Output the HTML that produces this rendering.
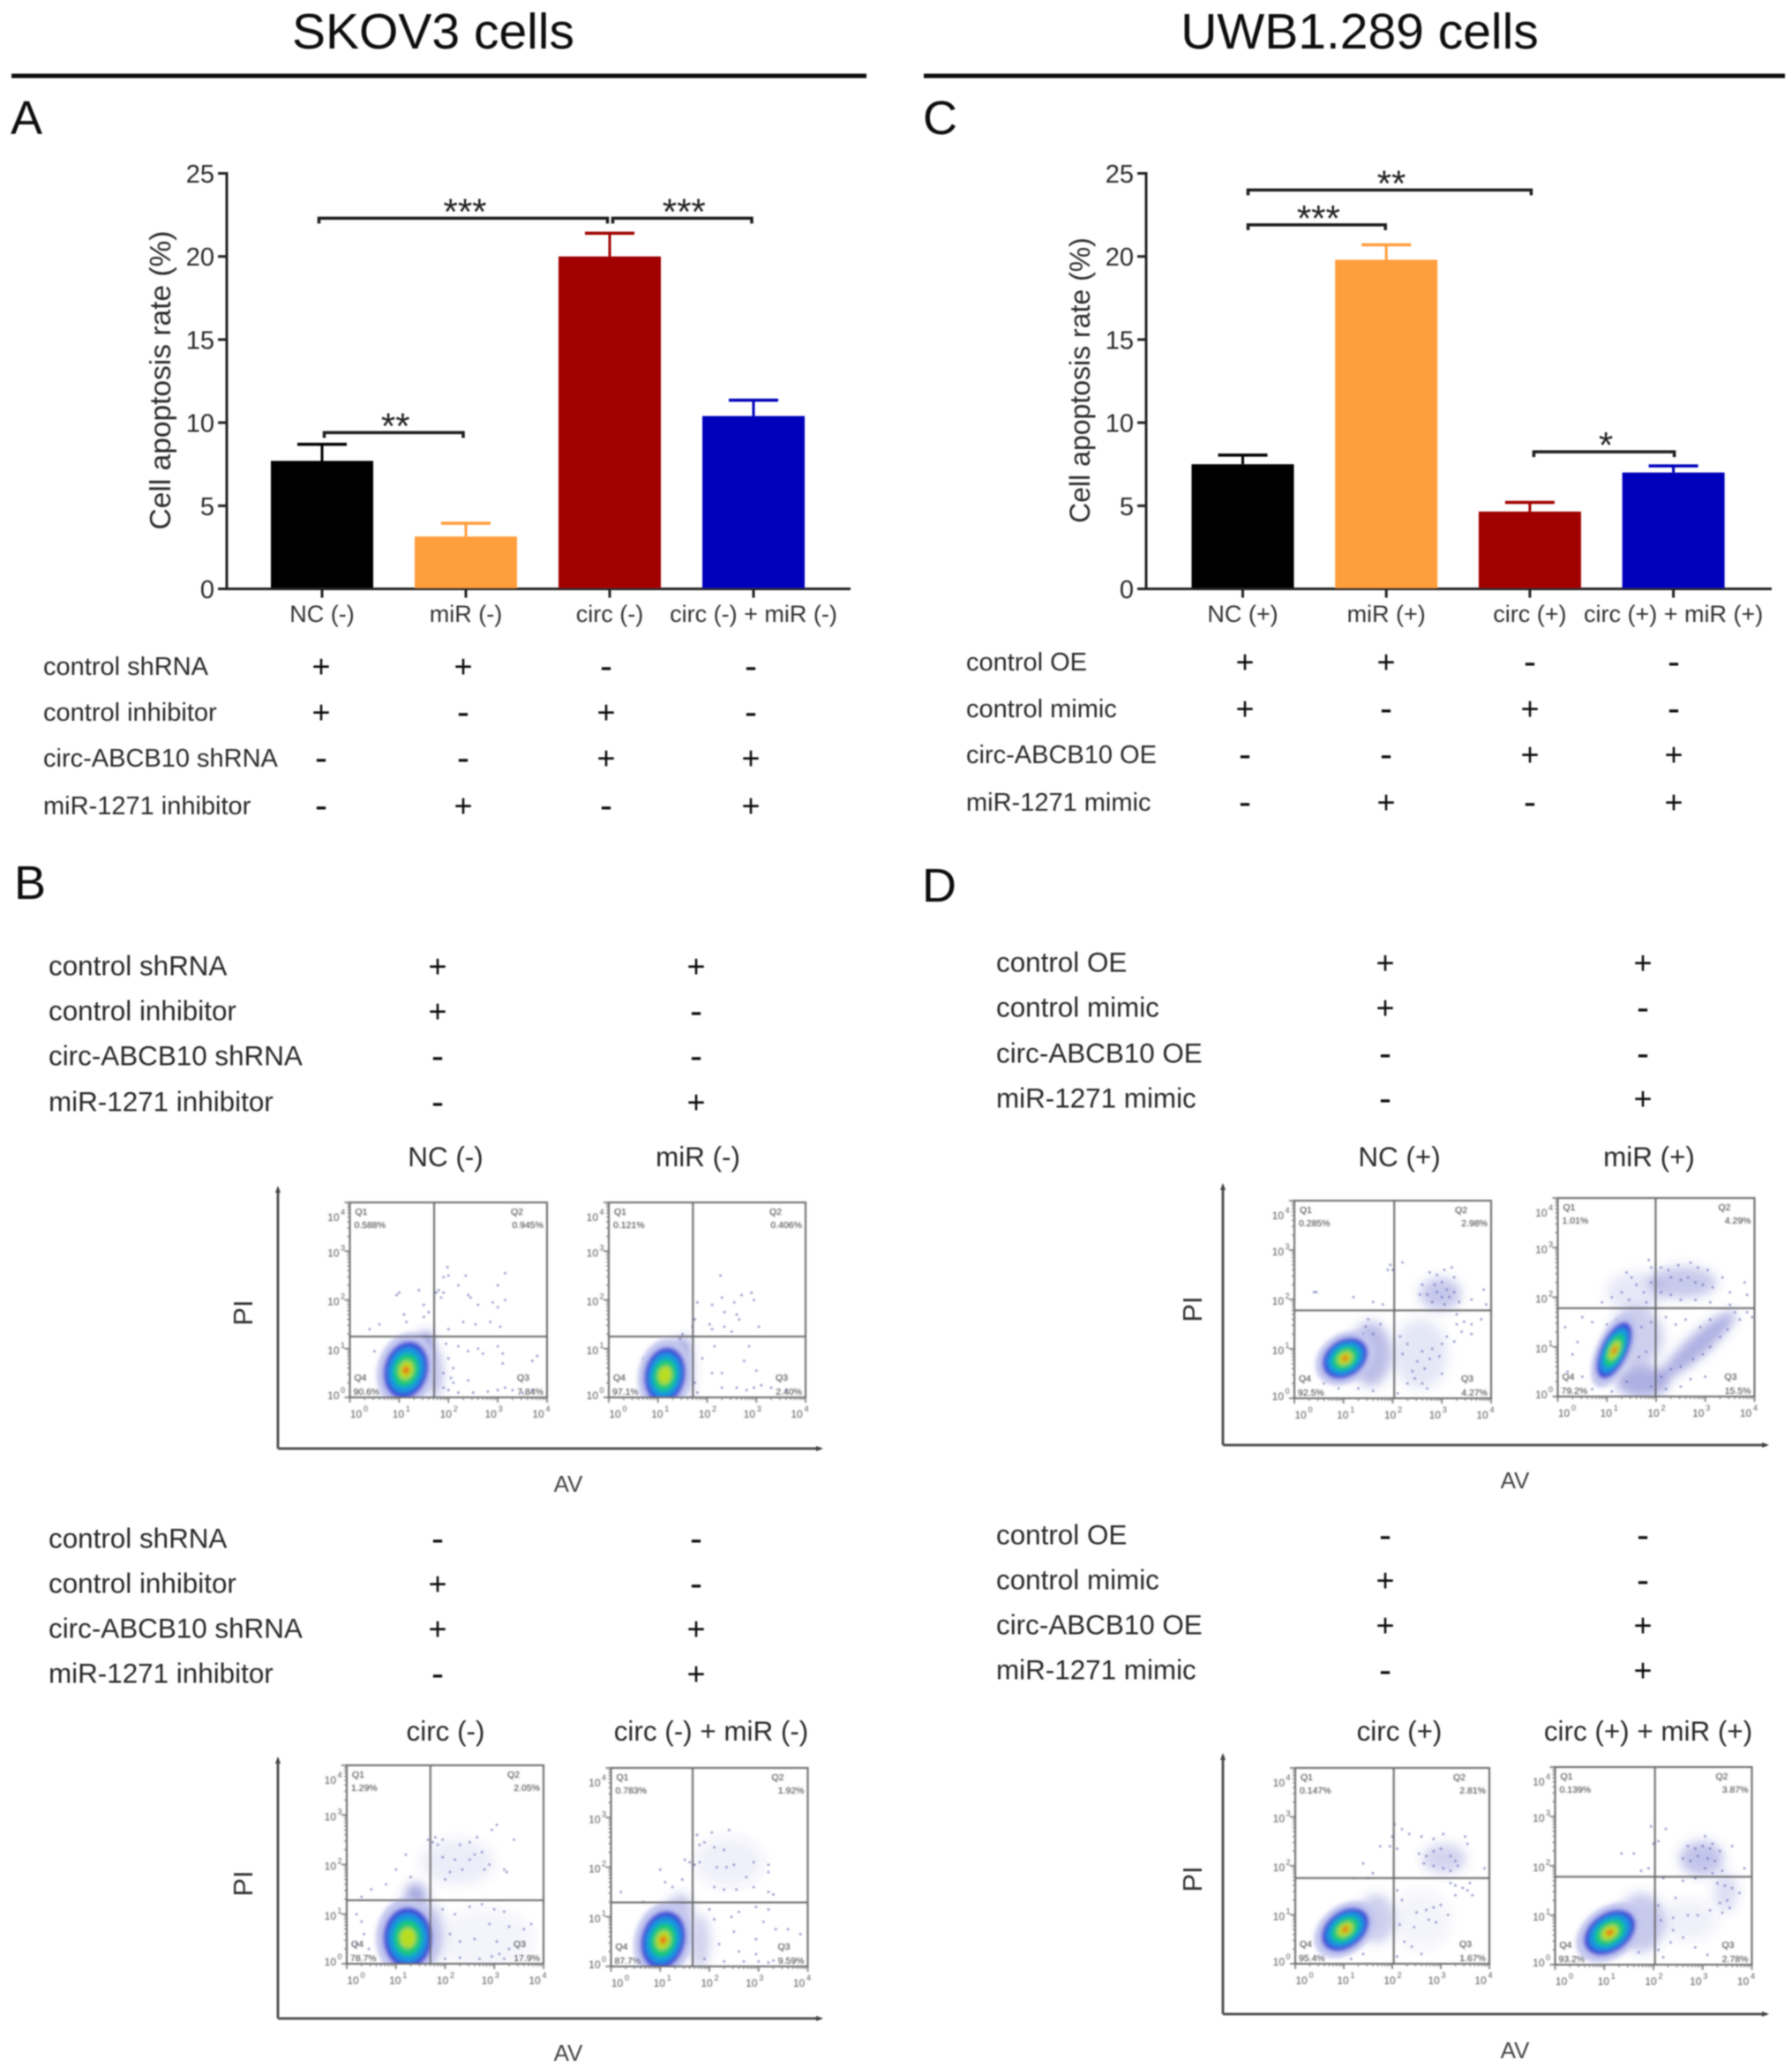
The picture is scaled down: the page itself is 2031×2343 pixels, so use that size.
<!DOCTYPE html>
<html lang="en">
<head>
<meta charset="utf-8">
<title>Cell apoptosis rate: SKOV3 and UWB1.289 cells</title>
<style>
html,body{margin:0;padding:0;background:#fff;}
svg{display:block;}
text{font-family:"Liberation Sans",Arial,sans-serif;}
</style>
</head>
<body>
<svg id="fig" xmlns="http://www.w3.org/2000/svg" width="2031" height="2343" viewBox="0 0 2031 2343">
<defs>
<filter id="soft" filterUnits="userSpaceOnUse" x="0" y="0" width="2031" height="2343"><feGaussianBlur stdDeviation="0.7"/></filter>
<filter id="softer" filterUnits="userSpaceOnUse" x="0" y="0" width="2031" height="2343"><feGaussianBlur stdDeviation="0.5"/></filter>
<filter id="coreBlur" filterUnits="userSpaceOnUse" x="0" y="0" width="2031" height="2343"><feGaussianBlur stdDeviation="2"/></filter>
<filter id="cloudBlur" filterUnits="userSpaceOnUse" x="0" y="0" width="2031" height="2343"><feGaussianBlur stdDeviation="6"/></filter>
</defs>
<rect x="0" y="0" width="2031" height="2343" fill="#fff"/>
<g id="root" filter="url(#soft)"></g>
</svg>
<script>
/* ---------- bar chart data ---------- */
const yTicks = [0, 5, 10, 15, 20, 25];
const skovCategories = ["NC (-)", "miR (-)", "circ (-)", "circ (-) + miR (-)"];
const skovMeans = [7.7, 3.15, 20.0, 10.4];
const skovErrors = [1.0, 0.8, 1.4, 0.95];
const uwbCategories = ["NC (+)", "miR (+)", "circ (+)", "circ (+) + miR (+)"];
const uwbMeans = [7.5, 19.8, 4.65, 7.0];
const uwbErrors = [0.55, 0.9, 0.55, 0.4];
const barColors = ["#000000", "#ff9e3d", "#a00000", "#0000bb"];
const skovBrackets = [[0, 2, 22.3, "***"], [2, 3, 22.3, "***"], [0, 1, 9.4, "**"]];
const uwbBrackets = [[0, 2, 24.0, "**"], [0, 1, 21.9, "***"], [2, 3, 8.25, "*"]];

/* ---------- treatment tables ---------- */
const skovTreatments = ["control shRNA", "control inhibitor", "circ-ABCB10 shRNA", "miR-1271 inhibitor"];
const uwbTreatments = ["control OE", "control mimic", "circ-ABCB10 OE", "miR-1271 mimic"];
const treatmentMatrix = [["+", "+", "-", "-"], ["+", "-", "+", "-"], ["-", "-", "+", "+"], ["-", "+", "-", "+"]];

/* ---------- flow cytometry data (decades of 10^n) ---------- */
const ncMinusPct = ["0.588%", "0.945%", "7.84%", "90.6%"];
const miMinusPct = ["0.121%", "0.406%", "2.40%", "97.1%"];
const ciMinusPct = ["1.29%", "2.05%", "17.9%", "78.7%"];
const cmMinusPct = ["0.783%", "1.92%", "9.59%", "87.7%"];
const ncPlusPct = ["0.285%", "2.98%", "4.27%", "92.5%"];
const miPlusPct = ["1.01%", "4.29%", "15.5%", "79.2%"];
const ciPlusPct = ["0.147%", "2.81%", "1.67%", "95.4%"];
const cmPlusPct = ["0.139%", "3.87%", "2.78%", "93.2%"];

const ncMinusGate = [1.71, 1.25];
const miMinusGate = [1.71, 1.25];
const ciMinusGate = [1.7, 1.28];
const cmMinusGate = [1.66, 1.29];
const ncPlusGate = [2.03, 1.78];
const miPlusGate = [1.99, 1.78];
const ciPlusGate = [2.03, 1.75];
const cmPlusGate = [2.03, 1.78];

/* core: u, v, radiusU, radiusV, tilt degrees, colour levels */
const ncMinusCore = [1.14, 0.56, 0.45, 0.6, 15, 6];
const miMinusCore = [1.14, 0.455, 0.42, 0.58, 10, 5];
const ciMinusCore = [1.24, 0.52, 0.5, 0.62, 0, 5];
const cmMinusCore = [1.06, 0.53, 0.45, 0.6, 15, 6];
const ncPlusCore = [1.03, 0.81, 0.5, 0.38, -35, 6];
const miPlusCore = [1.15, 0.93, 0.28, 0.62, 25, 6];
const ciPlusCore = [1.03, 0.7, 0.55, 0.38, -38, 6];
const cmPlusCore = [1.11, 0.65, 0.58, 0.4, -35, 6];

/* diffuse clouds: u, v, radiusU, radiusV, tilt degrees, opacity */
const ncMinusClouds = [[1.72, 0.5, 0.15, 0.5, 0, 0.4], [1.45, 1.0, 0.2, 0.35, 25, 0.75]];
const miMinusClouds = [[1.6, 0.5, 0.12, 0.5, 0, 0.3], [1.42, 0.9, 0.18, 0.35, 25, 0.6]];
const ciMinusClouds = [[1.4, 1.35, 0.22, 0.28, 0, 0.5], [2.25, 2.05, 0.75, 0.45, 0, 0.1], [1.75, 0.6, 0.2, 0.6, 0, 0.3], [2.8, 0.5, 1.0, 0.6, 0, 0.06]];
const cmMinusClouds = [[1.4, 1.15, 0.25, 0.3, 0, 0.35], [1.8, 0.5, 0.22, 0.55, 0, 0.25], [2.4, 2.1, 0.7, 0.5, 0, 0.08]];
const ncPlusClouds = [[2.97, 2.11, 0.42, 0.33, 0, 0.32], [2.56, 0.9, 0.55, 0.7, 0, 0.14], [1.55, 0.9, 0.42, 0.65, 0, 0.38]];
const miPlusClouds = [[2.86, 1.04, 1.0, 0.22, -42, 0.45], [2.53, 2.3, 0.7, 0.32, 0, 0.3], [1.72, 0.3, 0.55, 0.32, 0, 0.45], [1.6, 1.2, 0.55, 0.6, 0, 0.28], [1.6, 2.1, 0.6, 0.4, 0, 0.13]];
const ciPlusClouds = [[3.07, 2.15, 0.45, 0.3, 0, 0.25], [1.67, 0.92, 0.38, 0.5, 0, 0.28], [2.6, 0.9, 0.6, 0.6, 0, 0.06]];
const cmPlusClouds = [[2.98, 2.15, 0.45, 0.35, 0, 0.34], [3.47, 1.48, 0.25, 0.4, 0, 0.18], [1.75, 0.85, 0.48, 0.6, 0, 0.3], [2.7, 0.9, 0.6, 0.4, 0, 0.08]];

const ncMinusDots = [[1.98,2.67],[2.0,2.5],[1.9,2.47],[2.35,2.5],[3.15,2.55],[2.2,2.3],[3.0,2.3],[1.8,2.2],[1.75,2.15],[1.9,2.15],[1.85,2.05],[2.4,2.1],[2.45,2.05],[2.6,1.9],[2.9,1.95],[3.15,2.0],[3.0,1.85],[1.0,2.15],[0.95,2.1],[1.4,2.2],[1.5,1.9],[1.1,1.7],[1.15,1.55],[1.5,1.65],[1.6,1.75],[0.6,1.5],[0.4,1.4],[2.3,1.55],[2.55,1.5],[2.85,1.55],[3.05,1.45],[2.0,1.4],[1.95,1.1],[2.2,1.05],[2.4,0.95],[2.6,1.0],[2.7,0.9],[3.0,1.05],[3.1,0.9],[3.8,0.85],[3.7,0.75],[3.1,0.7],[2.0,0.8],[2.1,0.6],[1.9,0.5],[2.05,0.4],[2.4,0.35],[1.9,0.2],[2.0,0.15],[2.2,0.1],[2.5,0.1],[2.8,0.12],[3.0,0.15],[3.15,0.2],[3.3,0.15],[3.5,0.1],[3.7,0.15],[2.1,0.3],[0.5,0.95],[0.65,0.55]];
const miMinusDots = [[2.27,2.5],[1.8,1.95],[2.1,1.9],[2.3,2.05],[2.55,1.95],[2.7,2.1],[2.9,2.15],[2.95,2.0],[2.35,1.75],[2.6,1.7],[2.65,1.6],[1.75,1.6],[1.7,1.45],[2.05,1.5],[2.1,1.4],[2.35,1.45],[2.5,1.35],[3.05,1.45],[1.5,1.3],[1.45,1.2],[1.35,1.1],[2.15,1.05],[2.85,1.05],[1.9,0.8],[2.75,0.75],[3.0,0.55],[2.1,0.5],[2.3,0.5],[1.75,0.3],[2.3,0.2],[2.6,0.2],[2.95,0.2],[3.1,0.25],[3.3,0.2],[3.6,0.15],[1.8,0.1],[2.8,0.15],[0.7,0.8]];
const ciMinusDots = [[1.65,2.5],[1.75,2.45],[1.8,2.55],[1.7,2.35],[1.85,2.4],[1.95,2.5],[2.3,2.4],[2.5,2.45],[2.65,2.55],[2.95,2.7],[3.05,2.8],[3.4,2.5],[2.6,2.2],[2.75,2.25],[2.5,2.1],[2.2,2.1],[1.95,2.15],[2.1,1.85],[2.0,1.7],[2.35,1.9],[2.8,1.9],[2.9,2.0],[3.2,1.9],[3.25,1.85],[1.2,2.2],[1.0,1.9],[0.8,1.6],[1.3,1.75],[0.5,1.5],[0.3,1.35],[1.95,1.1],[2.2,1.0],[2.5,1.15],[2.75,1.2],[3.0,1.1],[3.2,1.05],[2.9,0.8],[3.3,0.75],[3.6,0.7],[3.75,0.8],[2.1,0.6],[2.3,0.45],[2.6,0.5],[3.05,0.45],[3.3,0.3],[2.0,0.1],[2.3,0.12],[2.7,0.1],[2.95,0.15],[3.1,0.2],[3.2,0.1],[0.2,1.0],[0.3,0.85],[0.35,0.6],[0.2,0.4],[0.45,0.3]];
const cmMinusDots = [[1.75,2.65],[1.8,2.45],[1.9,2.5],[2.05,2.7],[2.4,2.75],[2.1,2.4],[2.3,2.35],[1.5,2.15],[1.6,2.1],[1.7,2.05],[1.8,2.1],[2.15,2.0],[2.35,2.0],[2.5,2.05],[2.9,2.1],[3.2,2.05],[3.2,1.9],[2.75,1.8],[2.9,1.6],[3.2,1.5],[3.3,1.45],[2.1,1.6],[2.3,1.55],[2.55,1.55],[1.0,1.95],[1.1,1.7],[1.25,1.6],[1.45,1.75],[0.2,1.5],[0.65,1.3],[2.0,1.15],[2.1,0.95],[2.45,1.0],[2.6,1.1],[2.95,1.2],[3.2,1.15],[3.1,0.9],[3.35,0.75],[3.6,0.75],[3.85,0.65],[2.5,0.7],[2.95,0.55],[2.2,0.45],[2.6,0.3],[2.95,0.25],[1.9,0.15],[2.3,0.1],[2.7,0.1],[3.0,0.1],[3.2,0.08],[3.3,0.12]];
const ncPlusDots = [[2.6,2.3],[2.75,2.55],[2.9,2.5],[3.05,2.6],[3.2,2.65],[3.25,2.45],[2.85,2.3],[3.0,2.35],[3.1,2.2],[2.7,2.1],[2.55,2.1],[2.9,2.15],[3.0,2.05],[3.15,2.05],[3.25,2.15],[2.8,1.95],[3.05,1.9],[3.35,1.95],[3.6,2.0],[3.9,1.9],[3.85,2.2],[1.9,2.6],[2.0,2.6],[1.95,2.7],[2.2,2.75],[0.45,2.15],[0.4,2.15],[1.2,2.05],[1.8,1.9],[1.6,1.95],[3.3,1.7],[3.3,1.5],[3.45,1.55],[3.6,1.5],[3.8,1.6],[3.4,1.35],[3.6,1.3],[3.1,1.25],[3.25,1.15],[3.0,1.1],[2.8,1.0],[2.6,0.95],[2.95,0.85],[2.75,0.8],[2.5,0.75],[2.65,0.6],[2.4,0.55],[2.2,0.9],[2.3,1.1],[2.15,1.25],[2.45,0.4],[2.3,0.3],[2.6,0.3],[2.1,0.1],[2.7,0.2],[3.0,0.5],[1.5,1.6],[1.45,1.45],[1.4,1.3],[1.6,1.3],[1.75,1.5],[1.3,0.2],[1.6,0.15],[0.9,0.2],[0.6,0.3]];
const miPlusDots = [[1.85,2.75],[1.9,2.6],[2.1,2.6],[2.25,2.55],[2.45,2.65],[2.7,2.7],[2.85,2.6],[3.05,2.55],[3.35,2.4],[3.8,2.3],[2.3,2.4],[2.5,2.35],[2.65,2.4],[2.8,2.3],[2.95,2.25],[3.15,2.2],[3.5,2.1],[3.85,2.05],[1.5,2.4],[1.4,2.5],[1.6,2.25],[1.3,2.1],[1.45,1.95],[1.75,2.1],[1.8,1.9],[1.9,2.3],[2.1,2.1],[2.3,2.05],[2.5,1.95],[2.8,1.95],[3.1,1.9],[3.5,1.85],[1.1,2.0],[0.9,1.9],[0.5,1.6],[0.7,1.5],[1.0,1.45],[1.2,1.55],[1.5,1.55],[1.7,1.4],[1.9,1.5],[2.2,1.6],[2.4,1.45],[2.6,1.55],[2.9,1.4],[3.1,1.55],[3.6,1.7],[3.7,1.55],[3.85,1.7],[3.95,1.6],[3.45,1.35],[3.3,1.2],[3.1,1.0],[2.95,0.85],[2.75,0.75],[2.5,0.6],[2.3,0.55],[2.1,0.4],[1.9,0.2],[2.2,0.15],[2.5,0.2],[2.7,0.35],[3.0,0.4],[0.4,1.1],[0.3,0.85],[0.2,0.5],[0.15,1.4],[0.5,0.4],[0.7,0.15],[1.1,0.1],[1.4,0.3],[1.65,0.8],[1.8,0.9]];
const ciPlusDots = [[2.05,2.85],[2.2,2.75],[2.35,2.65],[2.0,2.6],[2.1,2.35],[1.75,2.4],[1.95,2.4],[2.6,2.6],[2.85,2.55],[3.05,2.65],[3.5,2.6],[3.55,2.45],[2.55,2.25],[2.7,2.2],[2.85,2.3],[3.0,2.35],[3.2,2.2],[3.3,2.1],[2.65,2.05],[2.85,2.0],[3.05,1.95],[3.2,1.9],[3.35,2.0],[3.9,1.95],[1.4,2.05],[1.2,1.75],[1.5,1.75],[1.6,1.85],[3.2,1.65],[3.3,1.6],[3.45,1.55],[3.55,1.5],[3.6,1.65],[3.65,1.4],[3.3,1.4],[2.1,1.5],[2.2,1.3],[2.5,1.05],[2.7,1.1],[2.85,1.15],[3.0,1.2],[3.15,1.0],[2.75,0.9],[2.9,0.85],[2.45,0.75],[2.15,0.8],[2.25,0.45],[2.4,0.35],[2.6,0.2],[2.1,0.15],[1.4,0.2],[1.15,0.1],[0.9,0.2],[0.5,0.55]];
const cmPlusDots = [[1.95,2.8],[2.25,2.75],[2.1,2.5],[2.0,2.45],[3.05,2.6],[3.2,2.45],[2.7,2.4],[2.85,2.35],[3.0,2.4],[3.15,2.35],[3.35,2.3],[3.6,2.4],[2.6,2.15],[2.75,2.1],[2.9,2.2],[3.1,2.15],[3.25,2.1],[3.05,1.95],[3.2,1.85],[3.4,1.9],[3.85,1.95],[1.35,2.25],[1.6,2.25],[1.9,1.95],[1.75,1.9],[2.2,1.75],[2.6,1.7],[2.85,1.75],[3.3,1.65],[3.45,1.6],[3.6,1.55],[3.75,1.45],[3.5,1.3],[3.35,1.25],[3.55,1.15],[3.4,1.05],[3.15,1.1],[2.9,1.0],[2.7,1.0],[2.4,0.95],[2.15,0.9],[2.1,1.2],[2.45,1.35],[2.4,0.7],[2.6,0.55],[2.35,0.45],[2.1,0.3],[2.2,0.15],[1.7,0.25],[1.4,0.3],[1.0,0.2],[0.7,0.3],[3.1,0.2],[2.85,0.35]];

/* ---------- helpers ---------- */
const SVGNS = "http://www.w3.org/2000/svg";
const root = document.getElementById("root");
function make(tag, attrs, parent, name) {
  const el = document.createElementNS(SVGNS, tag);
  for (const k in attrs) el.setAttribute(k, attrs[k]);
  
  
  (parent || root).appendChild(el);
  return el;
}
function label(txt, x, y, size, name, opts) {
  const o = opts || {};
  const el = make("text", {x: x, y: y, "font-size": size, fill: o.fill || "#222", "text-anchor": o.anchor || "start"}, o.parent || root, name);
  if (o.rotate) el.setAttribute("transform", "rotate(-90 " + x + " " + y + ")");
  el.textContent = txt;
  return el;
}
function line(x1, y1, x2, y2, color, width, name, parent) {
  return make("line", {x1: x1, y1: y1, x2: x2, y2: y2, stroke: color, "stroke-width": width}, parent || root, name);
}

/* ---------- bar chart ---------- */
function drawBarChart(cfg, categories, means, errors, brackets) {
  const y0 = 667.5, y25 = 196.5, barW = 116;
  const g = make("g", {}, root, cfg.name);
  const yOf = v => y0 - v * (y0 - y25) / 25;
  const xOf = i => cfg.x0 + cfg.step * i;
  line(cfg.axisX, y25 - 1.5, cfg.axisX, y0 + 1.5, "#222", 3, "y-axis-line", g);
  line(cfg.axisX - 10, y0, cfg.axisRight, y0, "#222", 3, "x-axis-line", g);
  yTicks.forEach(t => {
    line(cfg.axisX - 10, yOf(t), cfg.axisX, yOf(t), "#222", 3, "y-tick", g);
    label(String(t), cfg.axisX - 14, yOf(t) + 10.5, 29, "y-tick-label", {anchor: "end", parent: g, fill: "#2a2a2a"});
  });
  label("Cell apoptosis rate (%)", cfg.titleX, 431, cfg.titleSize, "y-axis-title", {anchor: "middle", rotate: true, parent: g, fill: "#2a2a2a"});
  categories.forEach((c, i) => {
    const cx = xOf(i), top = yOf(means[i]), up = yOf(means[i] + errors[i]);
    line(cx, up, cx, top, barColors[i], 3, "error-bar-stem", g);
    line(cx - 28, up, cx + 28, up, barColors[i], 3.5, "error-bar-cap", g);
    make("rect", {x: cx - barW / 2, y: top, width: barW, height: y0 - top - 1, fill: barColors[i]}, g, "bar-" + i);
    line(cx, y0, cx, y0 + 10, "#222", 3, "x-tick", g);
    label(c, cx, 705, 27, "x-tick-label", {anchor: "middle", parent: g, fill: "#333"});
  });
  brackets.forEach((b, i) => {
    const xa = xOf(b[0]) + cfg.bracketInset[i][0], xb = xOf(b[1]) + cfg.bracketInset[i][1], y = yOf(b[2]);
    make("path", {d: "M" + xa + " " + (y + 6) + "V" + y + "H" + xb + "V" + (y + 6), fill: "none", stroke: "#1c1c1c", "stroke-width": 3.5}, g, "significance-bracket");
    label(b[3], (xa + xb) / 2 + 2, y + 7, 42, "significance-stars", {anchor: "middle", parent: g});
  });
}

/* ---------- treatment table ---------- */
function drawTable(cfg, names, rows, cols) {
  const g = make("g", {}, root, cfg.name);
  names.forEach((n, r) => {
    label(n, cfg.labelX, cfg.rowY[r] + cfg.size * 0.34, cfg.size, "treatment-label", {parent: g, fill: "#2a2a2a"});
    cols.forEach((cx, c) => {
      const mark = rows[r][c + (cfg.colOffset || 0)];
      const sz = mark === "+" ? 36 : 42;
      label(mark, cx, cfg.rowY[r] + sz * (mark === "+" ? 0.35 : 0.33), sz, mark === "+" ? "treatment-plus" : "treatment-minus", {anchor: "middle", parent: g, fill: "#111"});
    });
  });
}

/* ---------- flow plot ---------- */
let clipCounter = 0;
const tickNudgeX = [10, 2, 0, -5, -7];
const tickNudgeY = [-4, 0, 0, 0, 15];
const coreScales = [1.3, 1.0, 0.8, 0.58, 0.33, 0.14];
const coreColors = ["#c4c7ee", "#3a4ad8", "#1496e0", "#18c878", "#b8dd20", "#f0581e"];
function drawFlowPlot(box, pct, gate, core, clouds, dots, name) {
  const g = make("g", {filter: "url(#softer)"}, root, name);
  const xOf = u => box.L + u / 4 * (box.R - box.L);
  const yOf = v => box.B - v / 4 * (box.B - box.T);
  const ux = (box.R - box.L) / 4, uy = (box.B - box.T) / 4;
  const id = "clip" + (clipCounter++);
  const cp = make("clipPath", {id: id}, g, "plot-clip");
  make("rect", {x: box.L, y: box.T, width: box.R - box.L, height: box.B - box.T}, cp, "plot-clip-rect");
  const data = make("g", {"clip-path": "url(#" + id + ")"}, g, "plot-data");
  const cloudG = make("g", {filter: "url(#cloudBlur)"}, data, "diffuse-clouds");
  clouds.forEach(c => {
    make("ellipse", {cx: xOf(c[0]), cy: yOf(c[1]), rx: c[2] * ux, ry: c[3] * uy, fill: "#4a50c0", "fill-opacity": c[5], transform: "rotate(" + c[4] + " " + xOf(c[0]) + " " + yOf(c[1]) + ")"}, cloudG, "event-cloud");
  });
  dots.forEach(d => {
    make("circle", {cx: xOf(d[0]), cy: yOf(d[1]), r: 1.3, fill: "#5c62b0", "fill-opacity": 0.75}, data, "event-dot");
  });
  const coreG = make("g", {filter: "url(#coreBlur)"}, data, "density-core");
  for (let i = 0; i < core[5]; i++) {
    make("ellipse", {cx: xOf(core[0]), cy: yOf(core[1]), rx: core[2] * ux * coreScales[i], ry: core[3] * uy * coreScales[i], fill: coreColors[i], transform: "rotate(" + core[4] + " " + xOf(core[0]) + " " + yOf(core[1]) + ")"}, coreG, "density-level-" + i);
  }
  make("rect", {x: box.L, y: box.T, width: box.R - box.L, height: box.B - box.T, fill: "none", stroke: "#666", "stroke-width": 2}, g, "plot-frame");
  line(xOf(gate[0]), box.T, xOf(gate[0]), box.B, "#666", 2, "gate-vertical", g);
  line(box.L, yOf(gate[1]), box.R, yOf(gate[1]), "#666", 2, "gate-horizontal", g);
  for (let d = 0; d <= 4; d++) {
    label("10", xOf(d) + tickNudgeX[d] - 3, box.B + 23, 12, "x-tick-label", {anchor: "middle", parent: g, fill: "#555"});
    label(String(d), xOf(d) + tickNudgeX[d] + 8, box.B + 16, 9, "x-tick-exponent", {anchor: "middle", parent: g, fill: "#555"});
    label("10", box.L - 12, yOf(d) + tickNudgeY[d] + 6, 12, "y-tick-label", {anchor: "end", parent: g, fill: "#555"});
    label(String(d), box.L - 8, yOf(d) + tickNudgeY[d] - 1, 9, "y-tick-exponent", {anchor: "middle", parent: g, fill: "#555"});
    line(xOf(d), box.B, xOf(d), box.B + 6, "#666", 1.5, "x-major-tick", g);
    line(box.L - 6, yOf(d), box.L, yOf(d), "#666", 1.5, "y-major-tick", g);
    if (d < 4) for (let m = 2; m < 10; m++) {
      const f = d + Math.log10(m);
      line(xOf(f), box.B, xOf(f), box.B + 3, "#777", 1.2, "x-minor-tick", g);
      line(box.L - 3, yOf(f), box.L, yOf(f), "#777", 1.2, "y-minor-tick", g);
    }
  }
  const small = {parent: g, fill: "#333"};
  label("Q1", box.L + 6, box.T + 14, 10.5, "q1-label", small);
  label(pct[0], box.L + 5, box.T + 29, 10.5, "q1-percent", small);
  label("Q2", box.R - 41, box.T + 14, 10.5, "q2-label", small);
  label(pct[1], box.R - 4, box.T + 29, 10.5, "q2-percent", {parent: g, fill: "#333", anchor: "end"});
  label("Q3", box.R - 34, box.B - 19, 10.5, "q3-label", small);
  label(pct[2], box.R - 4, box.B - 3, 10.5, "q3-percent", {parent: g, fill: "#333", anchor: "end"});
  label("Q4", box.L + 5, box.B - 19, 10.5, "q4-label", small);
  label(pct[3], box.L + 4, box.B - 3, 10.5, "q4-percent", small);
}
function drawOuterAxes(o, name) {
  const g = make("g", {}, root, name);
  line(o.x, o.top, o.x, o.bottom, "#555", 3, "pi-axis-line", g);
  line(o.x, o.bottom, o.right, o.bottom, "#555", 3, "av-axis-line", g);
  make("path", {d: "M" + (o.x - 3) + " " + (o.top + 5) + "L" + o.x + " " + (o.top - 3) + "L" + (o.x + 3) + " " + (o.top + 5) + "Z", fill: "#444"}, g, "pi-axis-arrow");
  make("path", {d: "M" + (o.right - 5) + " " + (o.bottom - 3) + "L" + (o.right + 3) + " " + o.bottom + "L" + (o.right - 5) + " " + (o.bottom + 3) + "Z", fill: "#444"}, g, "av-axis-arrow");
  label("PI", o.piX, o.piY, 31, "pi-axis-title", {anchor: "middle", rotate: true, parent: g, fill: "#333"});
  label("AV", o.avX, o.avY, 26, "av-axis-title", {anchor: "middle", parent: g, fill: "#444"});
}

/* ---------- headers ---------- */
label("SKOV3 cells", 491, 55, 57, "skov3-title", {anchor: "middle", fill: "#111"});
label("UWB1.289 cells", 1541, 55, 57, "uwb-title", {anchor: "middle", fill: "#111"});
line(13, 86, 982, 86, "#111", 5, "skov3-title-rule");
line(1047, 86, 2023, 86, "#111", 5, "uwb-title-rule");
label("A", 12, 152, 54, "panel-a-letter", {fill: "#111"});
label("B", 16, 1019, 54, "panel-b-letter", {fill: "#111"});
label("C", 1046, 152, 54, "panel-c-letter", {fill: "#111"});
label("D", 1045, 1022, 54, "panel-d-letter", {fill: "#111"});

/* ---------- panels A and C ---------- */
drawBarChart({name: "panel-a-chart", x0: 365, step: 163, axisX: 257, axisRight: 964, titleX: 193, titleSize: 33.5, bracketInset: [[-3.5, -2.5], [3.5, -2], [2.5, -3]]}, skovCategories, skovMeans, skovErrors, skovBrackets);
drawBarChart({name: "panel-c-chart", x0: 1408.5, step: 162.7, axisX: 1299, axisRight: 2008, titleX: 1235, titleSize: 32, bracketInset: [[6, 1.5], [6, -1], [4.5, 1]]}, uwbCategories, uwbMeans, uwbErrors, uwbBrackets);
drawTable({name: "panel-a-treatments", labelX: 49, size: 29, rowY: [755, 807, 859, 913]}, skovTreatments, treatmentMatrix, [364, 525, 687, 851]);
drawTable({name: "panel-c-treatments", labelX: 1095, size: 29, rowY: [750, 803, 855, 909]}, uwbTreatments, treatmentMatrix, [1411, 1571, 1734, 1897]);

/* ---------- panels B and D tables ---------- */
const tableSize = 31.4;
drawTable({name: "panel-b-treatments-top", labelX: 55, size: tableSize, rowY: [1095, 1146, 1197, 1249]}, skovTreatments, treatmentMatrix, [496, 789]);
drawTable({name: "panel-b-treatments-bottom", labelX: 55, size: tableSize, rowY: [1744, 1795, 1846, 1897], colOffset: 2}, skovTreatments, treatmentMatrix, [496, 789]);
drawTable({name: "panel-d-treatments-top", labelX: 1129, size: tableSize, rowY: [1091, 1142, 1194, 1245]}, uwbTreatments, treatmentMatrix, [1570, 1862]);
drawTable({name: "panel-d-treatments-bottom", labelX: 1129, size: tableSize, rowY: [1740, 1791, 1842, 1893], colOffset: 2}, uwbTreatments, treatmentMatrix, [1570, 1862]);

label(skovCategories[0], 505, 1322, tableSize, "flow-header-nc-minus", {anchor: "middle", fill: "#2a2a2a"});
label(skovCategories[1], 791, 1322, tableSize, "flow-header-mir-minus", {anchor: "middle", fill: "#2a2a2a"});
label(skovCategories[2], 505, 1973, tableSize, "flow-header-circ-minus", {anchor: "middle", fill: "#2a2a2a"});
label(skovCategories[3], 806, 1973, tableSize, "flow-header-circ-mir-minus", {anchor: "middle", fill: "#2a2a2a"});
label(uwbCategories[0], 1586, 1322, tableSize, "flow-header-nc-plus", {anchor: "middle", fill: "#2a2a2a"});
label(uwbCategories[1], 1869, 1322, tableSize, "flow-header-mir-plus", {anchor: "middle", fill: "#2a2a2a"});
label(uwbCategories[2], 1586, 1973, tableSize, "flow-header-circ-plus", {anchor: "middle", fill: "#2a2a2a"});
label(uwbCategories[3], 1868, 1973, tableSize, "flow-header-circ-mir-plus", {anchor: "middle", fill: "#2a2a2a"});

/* ---------- flow axes ---------- */
drawOuterAxes({x: 315, top: 1347, bottom: 1642, right: 930, piX: 286, piY: 1488, avX: 644, avY: 1691}, "panel-b-axes-top");
drawOuterAxes({x: 315, top: 1994, bottom: 2288, right: 930, piX: 286, piY: 2135, avX: 644, avY: 2336}, "panel-b-axes-bottom");
drawOuterAxes({x: 1386, top: 1344, bottom: 1638, right: 2002, piX: 1362, piY: 1484, avX: 1717, avY: 1687}, "panel-d-axes-top");
drawOuterAxes({x: 1386, top: 1990, bottom: 2283, right: 2002, piX: 1362, piY: 2130, avX: 1717, avY: 2333}, "panel-d-axes-bottom");

/* ---------- flow plots ---------- */
drawFlowPlot({L: 396.5, R: 620, T: 1363, B: 1584}, ncMinusPct, ncMinusGate, ncMinusCore, ncMinusClouds, ncMinusDots, "flow-plot-nc-minus");
drawFlowPlot({L: 690, R: 913, T: 1363, B: 1584}, miMinusPct, miMinusGate, miMinusCore, miMinusClouds, miMinusDots, "flow-plot-mir-minus");
drawFlowPlot({L: 393, R: 616, T: 2001, B: 2226}, ciMinusPct, ciMinusGate, ciMinusCore, ciMinusClouds, ciMinusDots, "flow-plot-circ-minus");
drawFlowPlot({L: 692.5, R: 915.5, T: 2004, B: 2229}, cmMinusPct, cmMinusGate, cmMinusCore, cmMinusClouds, cmMinusDots, "flow-plot-circ-mir-minus");
drawFlowPlot({L: 1467, R: 1690, T: 1361, B: 1585}, ncPlusPct, ncPlusGate, ncPlusCore, ncPlusClouds, ncPlusDots, "flow-plot-nc-plus");
drawFlowPlot({L: 1765.5, R: 1988.5, T: 1358, B: 1583}, miPlusPct, miPlusGate, miPlusCore, miPlusClouds, miPlusDots, "flow-plot-mir-plus");
drawFlowPlot({L: 1468, R: 1688, T: 2004, B: 2226}, ciPlusPct, ciPlusGate, ciPlusCore, ciPlusClouds, ciPlusDots, "flow-plot-circ-plus");
drawFlowPlot({L: 1762.5, R: 1985.5, T: 2003, B: 2227}, cmPlusPct, cmPlusGate, cmPlusCore, cmPlusClouds, cmPlusDots, "flow-plot-circ-mir-plus");
</script>
</body>
</html>
